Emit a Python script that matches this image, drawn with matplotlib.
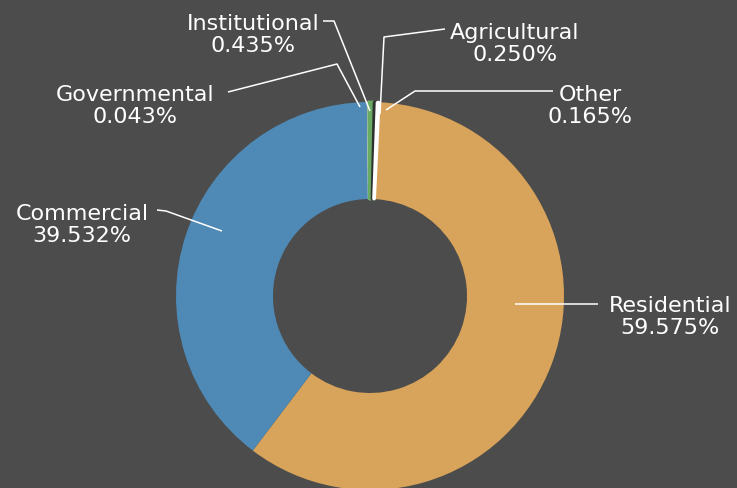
import matplotlib
matplotlib.use("Agg")
import matplotlib.pyplot as plt
import numpy as np

# land use shares, listed clockwise from the Residential slice
categories = ['Residential', 'Commercial', 'Governmental', 'Institutional', 'Agricultural', 'Other']
shares = [59.575, 39.532, 0.043, 0.435, 0.250, 0.165]
colors = ['#d8a35a', '#4f89b6', '#c3c8c8', '#6aab63', '#2f3131', '#ffffff']
bg = '#4b4c4b'

W, H = 737, 489
CX, CY, R = 370, 297, 194  # donut centre / radius in pixels

def px(x, y):
    # pixel position -> data position
    return (x - CX) / R, (CY - y) / R

fig = plt.figure(figsize=(W / 100, H / 100), dpi=100, facecolor=bg)
ax = fig.add_axes([0, 0, 1, 1])
ax.set_facecolor(bg)

wedges, _ = ax.pie(shares, colors=colors, startangle=87.3, counterclock=False,
                   radius=1.0, wedgeprops=dict(width=0.5, linewidth=0))
# widen the tiny slices a little so they stay visible
for w, s in zip(wedges, shares):
    if s < 1:
        w.set_edgecolor(w.get_facecolor())
        w.set_linewidth(2.0)
        w.set_joinstyle('bevel')

ax.set_aspect('auto')
ax.set_xlim(-CX / R, (W - CX) / R)
ax.set_ylim((CY - H) / R, CY / R)
ax.axis('off')

# label block centre and leader path, in pixels
label_pos = {
    'Residential':   (670, 317),
    'Commercial':    (82, 225),
    'Governmental':  (135, 106),
    'Institutional': (253, 35),
    'Agricultural':  (515, 44),
    'Other':         (590, 106),
}
leaders = {
    'Residential':   [(598, 305), (515, 305)],
    'Commercial':    [(157, 211), (166, 212), (222, 232)],
    'Governmental':  [(228, 93), (337, 65), (360, 108)],
    'Institutional': [(323, 22), (334, 22), (370, 112)],
    'Agricultural':  [(445, 30), (384, 38), (380, 115)],
    'Other':         [(553, 92), (415, 92), (386, 111)],
}

for cat, s in zip(categories, shares):
    tx, ty = px(*label_pos[cat])
    ax.text(tx, ty, f'{cat}\n{s:.3f}%', ha='center', va='center', color='white',
            fontsize=16, linespacing=1.1, family='DejaVu Sans')
    xs, ys = zip(*[px(*p) for p in leaders[cat]])
    ax.plot(xs, ys, color='white', lw=1.1, solid_capstyle='butt')

fig.savefig('out.png', dpi=100, facecolor=bg)
